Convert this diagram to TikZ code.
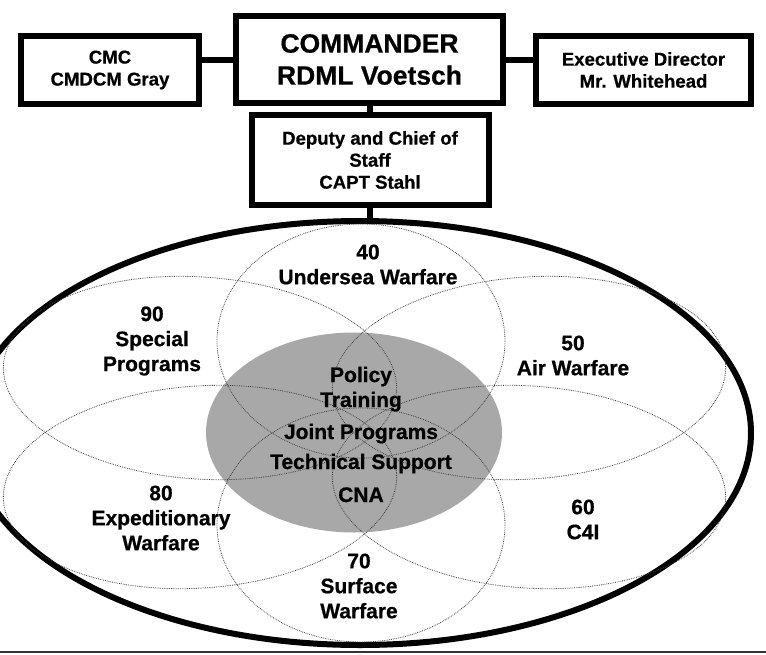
\documentclass[tikz,border=0pt]{standalone}
\usepackage{fontspec}
\setmainfont{Liberation Sans}[BoldFeatures={FakeBold=0.7}]
\usetikzlibrary{shapes.geometric, positioning}

\definecolor{coregray}{RGB}{168,168,168}

\tikzset{
  box/.style={draw, line width=6pt, align=center, inner sep=0pt,
              font=\fontsize{18.6}{22}\selectfont\bfseries},
  link/.style={line width=6pt},
  petal/.style={densely dotted, line width=0.8pt, black!75},
  unit/.style={align=center, font=\fontsize{21}{25}\selectfont\bfseries},
}

\begin{document}
\begin{tikzpicture}[x=1pt, y=-1pt]
    \useasboundingbox (0,0) rectangle (766,654);
    \clip (0,0) rectangle (766,654);

    % front office
    \node [box, minimum width=267pt, minimum height=87pt,
           font=\fontsize{26.5}{32}\selectfont\bfseries] (cdr) at (369.5,59.5) {COMMANDER\\RDML Voetsch};
    \node [box, minimum width=177.5pt, minimum height=68pt] (cmc) at (110,70) {CMC\\CMDCM Gray};
    \node [box, minimum width=215pt, minimum height=68pt] (xd) at (643.5,70) {Executive Director\\Mr. Whitehead};
    \node [box, minimum width=237pt, minimum height=90pt] (cos) at (370,160) {Deputy and Chief of\\Staff\\CAPT Stahl};

    % codes ring and core
    \node [draw, ellipse, line width=6pt, minimum width=782pt, minimum height=424pt] (codes) at (360,433) {};
    \node [ellipse, fill=coregray, minimum width=296pt, minimum height=200pt] (core) at (354,432.5) {};

    % petals
    \draw [petal] (361,341) ellipse [x radius=144, y radius=117];
    \draw [petal, rotate around={4:(529,378)}] (529,378) ellipse [x radius=197, y radius=101];
    \draw [petal, rotate around={-4:(529,487)}] (529,487) ellipse [x radius=197, y radius=101];
    \draw [petal] (361,525) ellipse [x radius=144, y radius=117];
    \draw [petal, rotate around={4:(200,487)}] (200,487) ellipse [x radius=197, y radius=101];
    \draw [petal, rotate around={-4:(200,378)}] (200,378) ellipse [x radius=197, y radius=101];

    \node [unit] (u40) at (368,264.5) {40\\Undersea Warfare};
    \node [unit] (u50) at (573,355.5) {50\\Air Warfare};
    \node [unit] (u60) at (583,519.5) {60\\C4I};
    \node [unit] (u70) at (359,586) {70\\Surface\\Warfare};
    \node [unit] (u80) at (161,518) {80\\Expeditionary\\Warfare};
    \node [unit] (u90) at (152,341) {90\\Special\\Programs};
    \node [unit] (tasks) at (361,434.5) {Policy\\Training\\[7pt]Joint Programs\\[5pt]Technical Support\\[8pt]CNA};

    \path [link]
        (cdr.west) edge (cdr.west -| cmc.east)
        (cdr.east) edge (cdr.east -| xd.west)
        (cdr.south) edge (cdr.south |- cos.north)
        (cos.south) edge (cos.south |- codes.north);

    \draw [line width=2pt, black!80] (0,652) -- (766,652);
\end{tikzpicture}
\end{document}
